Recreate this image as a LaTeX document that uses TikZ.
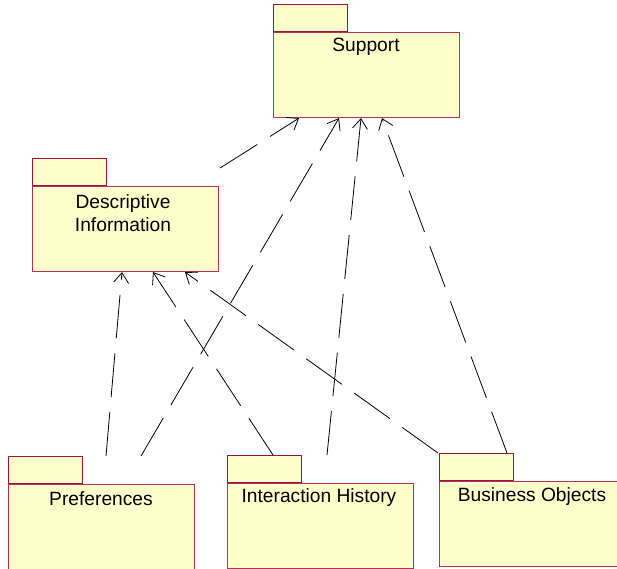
\documentclass[tikz,border=0pt]{standalone}
\usepackage{fontspec}
\setmainfont{Liberation Sans}
\usetikzlibrary{arrows.meta}
\definecolor{pkgfill}{HTML}{FFFFCC}
\definecolor{pkgedge}{HTML}{B8305A}
\definecolor{tabedge}{HTML}{A0103F}
\begin{document}
\begin{tikzpicture}[x=1pt,y=-1pt,
  pkgbody/.style={draw=pkgedge,fill=pkgfill,line width=1.1pt,minimum width=186pt,minimum height=85pt,anchor=north west,inner sep=0pt},
  pkgtab/.style={draw=tabedge,fill=pkgfill,line width=1pt,minimum width=74pt,minimum height=27pt,anchor=south west,inner sep=0pt},
  pkglabel/.style={font=\fontsize{19.2}{23}\selectfont,align=center,text=black},
  dep/.style={draw=black,line width=0.8pt,dash pattern=on 44pt off 15pt,-{Straight Barb[length=10pt,width=15pt,line width=0.8pt]}}]
\useasboundingbox (0,0) rectangle (617,568);
% Support
\node[pkgbody] (sup) at (273,32) {};
\node[pkgtab] (supt) at (sup.north west) {};
\node[pkglabel] (supl) at (366,47) {Support};
% Descriptive Information
\node[pkgbody] (desc) at (32,186) {};
\node[pkgtab] (desct) at (desc.north west) {};
\node[pkglabel] (descl) at (123,213) {Descriptive\\Information};
% Preferences
\node[pkgbody] (pref) at (8,484) {};
\node[pkgtab] (preft) at (pref.north west) {};
\node[pkglabel] (prefl) at (101,499) {Preferences};
% Interaction History
\node[pkgbody] (inter) at (227,483) {};
\node[pkgtab] (intert) at (inter.north west) {};
\node[pkglabel] (interl) at (319,498) {Interaction History};
% Business Objects
\node[pkgbody] (bus) at (439,481) {};
\node[pkgtab] (bust) at (bus.north west) {};
\node[pkglabel] (busl) at (532,497) {Business Objects};
% dependencies on Support
\draw[dep] ([xshift=1pt,yshift=18pt]desc.north east) -- ([xshift=26pt]sup.south west);
\draw[dep] ([xshift=133pt]preft.north west) -- ([xshift=66pt]sup.south west);
\draw[dep] ([xshift=100pt]intert.north west) -- ([xshift=88pt]sup.south west);
\draw[dep] ([xshift=68pt]bust.north west) -- ([xshift=109pt]sup.south west);
% dependencies on Descriptive Information
\draw[dep] ([xshift=98pt]preft.north west) -- ([xshift=90pt]desc.south west);
\draw[dep] ([xshift=46pt]intert.north west) -- ([xshift=121pt]desc.south west);
\draw[dep] ([xshift=-1pt]bust.north west) -- ([xshift=153pt]desc.south west);
\end{tikzpicture}
\end{document}
